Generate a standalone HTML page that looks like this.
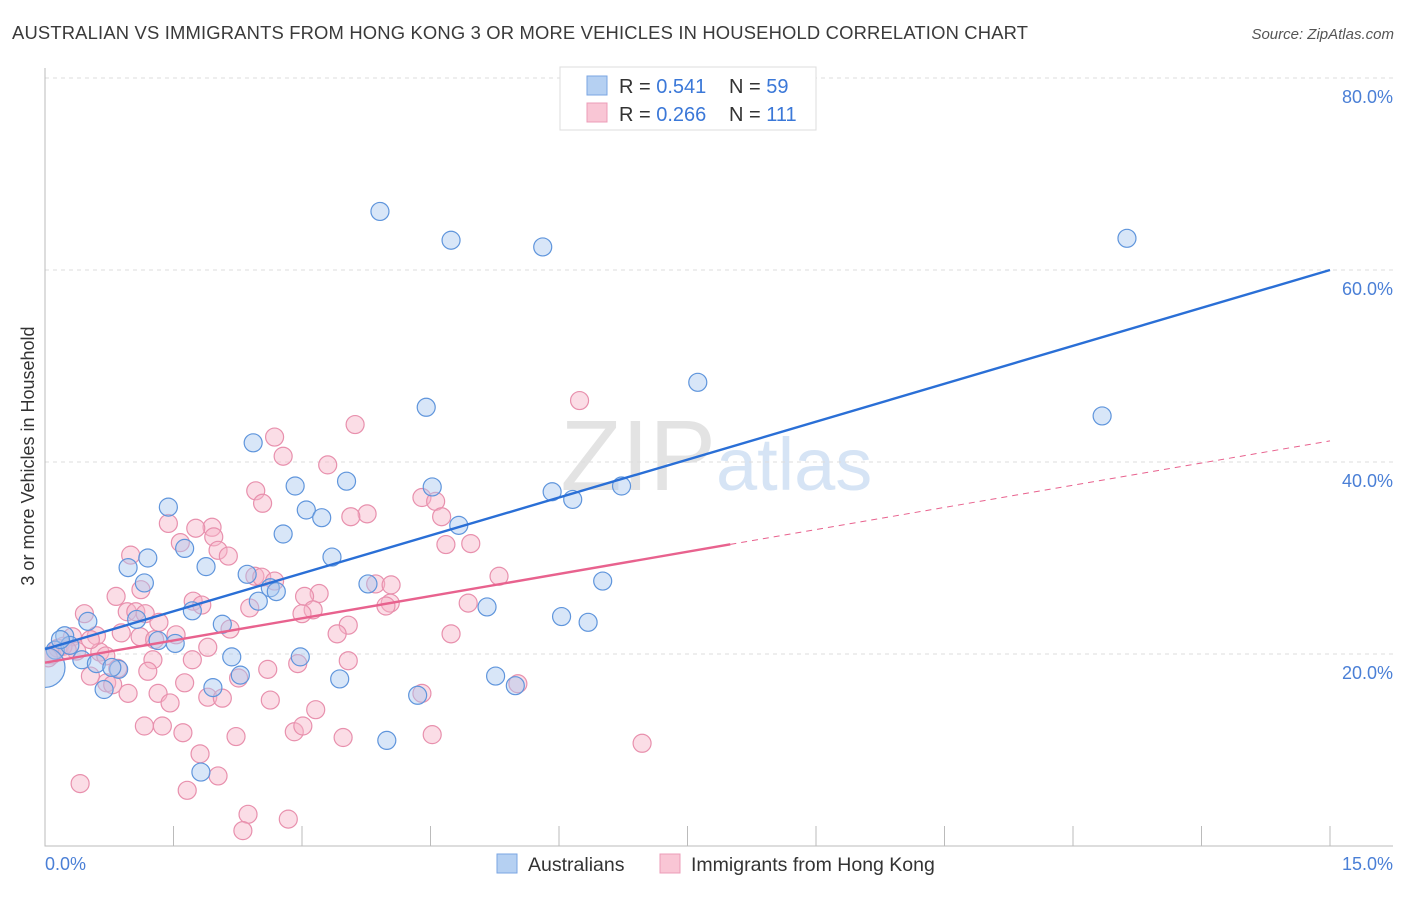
<!DOCTYPE html>
<html><head><meta charset="utf-8"><style>
body{margin:0;background:#fff;font-family:"Liberation Sans",sans-serif}
svg text{font-family:"Liberation Sans",sans-serif}
</style></head><body>
<svg id="chart" width="1406" height="892">
<defs><clipPath id="plotclip"><rect x="45" y="60" width="1360" height="786"/></clipPath></defs>
<text x="12" y="39" font-size="18.4" fill="#3a3a3a" textLength="1016">AUSTRALIAN VS IMMIGRANTS FROM HONG KONG 3 OR MORE VEHICLES IN HOUSEHOLD CORRELATION CHART</text>
<text x="1394" y="39" font-size="15" fill="#555" font-style="italic" text-anchor="end">Source: ZipAtlas.com</text>
<text x="716" y="490" font-size="100" fill="#e3e3e3" font-family="Liberation Serif" text-anchor="end">ZIP</text>
<text x="716" y="490" font-size="74" fill="#d6e4f5">atlas</text>
<g id="grid"></g>
<g id="axes"></g>
<g id="pts" clip-path="url(#plotclip)"></g>
<g id="lines"></g>
<text x="34" y="456" font-size="18" fill="#333" text-anchor="middle" transform="rotate(-90 34 456)">3 or more Vehicles in Household</text>
<text x="45" y="870" font-size="18" fill="#4a7fd6">0.0%</text>
<text x="1393" y="870" font-size="18" fill="#4a7fd6" text-anchor="end">15.0%</text>
<g>
<rect x="560" y="67" width="256" height="63" fill="#fff" stroke="#ddd"/>
<rect x="587" y="76" width="20" height="19" fill="#b5d0f2" stroke="#7aa6e3"/>
<rect x="587" y="103" width="20" height="19" fill="#f9c6d5" stroke="#ec9cb8"/>
<text x="619" y="93" font-size="20" fill="#333">R = <tspan fill="#3b78d8">0.541</tspan><tspan x="729">N = </tspan><tspan fill="#3b78d8">59</tspan></text>
<text x="619" y="121" font-size="20" fill="#333">R = <tspan fill="#3b78d8">0.266</tspan><tspan x="729">N = </tspan><tspan fill="#3b78d8">111</tspan></text>
</g>
<g>
<rect x="497" y="854" width="20" height="19" fill="#b5d0f2" stroke="#7aa6e3"/>
<text x="528" y="871" font-size="19.5" fill="#333">Australians</text>
<rect x="660" y="854" width="20" height="19" fill="#f9c6d5" stroke="#ec9cb8"/>
<text x="691" y="871" font-size="19.5" fill="#333">Immigrants from Hong Kong</text>
</g>
</svg>
<script>
const yTicks=[20,40,60,80];
const xTicks=[0,1.5,3,4.5,6,7.5,9,10.5,12,13.5,15];
const blueX=[3.91,4.74,5.81,12.63,7.62,12.34,4.45,2.43,1.44,2.92,3.52,4.52,3.05,3.23,4.83,5.92,6.16,6.73,1.63,1.20,0.97,2.78,3.35,1.88,2.36,1.16,3.77,2.63,2.70,2.49,6.51,5.16,1.72,1.07,0.50,0.23,6.03,6.34,2.07,1.32,1.52,2.18,2.98,0.43,0.60,0.86,0.78,2.28,3.44,5.26,5.49,1.96,0.69,4.35,3.99,1.82,0.12,0.29,0.18];
const blueY=[66.1,63.1,62.4,63.3,48.3,44.8,45.7,42.0,35.3,37.5,38.0,37.4,35.0,34.2,33.4,36.9,36.1,37.5,31.0,30.0,29.0,32.5,30.1,29.1,28.3,27.4,27.3,26.9,26.5,25.5,27.6,24.9,24.5,23.6,23.4,21.9,23.9,23.3,23.1,21.4,21.1,19.7,19.7,19.4,19.0,18.4,18.6,17.8,17.4,17.7,16.7,16.5,16.3,15.7,11.0,7.7,20.4,20.9,21.5];
const pinkX=[6.24,3.62,2.68,2.78,3.30,2.46,2.54,4.40,4.56,3.76,3.57,4.63,1.44,1.95,1.76,1.97,1.58,4.97,4.68,2.02,1.00,2.14,1.12,0.83,5.30,2.45,2.53,2.68,3.86,4.04,3.20,3.03,1.73,1.83,4.03,3.98,4.94,2.39,3.13,3.00,0.46,0.96,1.06,1.17,1.33,1.53,2.16,3.54,3.41,4.74,0.89,1.11,1.28,0.60,0.32,1.90,0.64,0.37,0.71,1.26,1.72,3.54,2.60,2.95,1.20,0.85,1.63,2.26,0.53,0.72,0.79,0.97,1.32,1.90,4.40,5.52,2.63,1.46,2.07,1.16,1.37,1.61,2.23,2.91,3.01,3.16,3.48,4.52,6.97,1.81,2.02,0.41,1.66,2.37,2.84,2.31,0.21,0.08,0.15,0.26,0.53,0.04];
const pinkY=[46.4,43.9,42.6,40.6,39.7,37.0,35.7,36.3,35.9,34.6,34.3,34.3,33.6,33.2,33.1,32.2,31.6,31.5,31.4,30.8,30.3,30.2,26.7,26.0,28.1,28.1,28.0,27.6,27.3,27.2,26.3,26.0,25.5,25.1,25.3,25.0,25.3,24.8,24.6,24.2,24.2,24.4,24.4,24.2,23.3,22.0,22.6,23.0,22.1,22.1,22.2,21.8,21.5,21.9,21.8,20.7,20.2,20.3,19.8,19.4,19.4,19.3,18.4,19.0,18.2,18.5,17.0,17.5,17.7,17.0,16.8,15.9,15.9,15.5,15.9,16.9,15.2,14.9,15.4,12.5,12.5,11.8,11.4,11.9,12.5,14.2,11.3,11.6,10.7,9.6,7.3,6.5,5.8,3.3,2.8,1.6,20.8,19.9,20.6,20.4,21.5,19.6];
const bigBlue=[0.0,18.6];
const blueLine=[20.5,60.0];
const pinkLine=[19.1,42.2];
const pinkSolidEnd=8.0;
const X0=45,X1=1330,Y0=846,YP=9.6;
const sx=v=>X0+(X1-X0)*v/15, sy=v=>Y0-v*YP;
const NS='http://www.w3.org/2000/svg';
function mk(t,a,p){const e=document.createElementNS(NS,t);for(const k in a)e.setAttribute(k,a[k]);p.appendChild(e);return e;}
const grid=document.getElementById('grid'),axes=document.getElementById('axes'),pts=document.getElementById('pts'),lines=document.getElementById('lines');
yTicks.forEach(v=>{
 const l=mk('line',{x1:X0,x2:1393,y1:sy(v),y2:sy(v),stroke:'#ddd','stroke-dasharray':'4,4'},grid);
 
 
 const t=mk('text',{x:1393,y:sy(v)+25,'font-size':18,fill:'#4a7fd6','text-anchor':'end'},grid);
 t.textContent=v.toFixed(1)+'%';
 
 
});
const ax=mk('path',{d:`M${X0} 68V${Y0}H1393`,stroke:'#bbb',fill:'none'},axes);


xTicks.forEach((v,i)=>{if(i==0)return;
 const l=mk('line',{x1:sx(v),x2:sx(v),y1:826,y2:Y0,stroke:'#bbb'},axes);
 
 
});
function dot(x,y,r,f,s,name){
 const c=mk('circle',{cx:sx(x),cy:sy(y),r:r,fill:f,'fill-opacity':0.45,stroke:s,'stroke-width':1.2},pts);
 
 
}
pinkX.forEach((x,i)=>dot(x,pinkY[i],9,'#f6b3c8','#e890ad','hong-kong-point'));
blueX.forEach((x,i)=>dot(x,blueY[i],9,'#a9c8f0','#5f95dc','australian-point'));
dot(bigBlue[0],bigBlue[1],20,'#a9c8f0','#5f95dc','australian-point-large');
const bl=mk('line',{x1:sx(0),y1:sy(blueLine[0]),x2:sx(15),y2:sy(blueLine[1]),stroke:'#2a6fd6','stroke-width':2.4},lines);


const pAt=x=>pinkLine[0]+(pinkLine[1]-pinkLine[0])*x/15;
const pl=mk('line',{x1:sx(0),y1:sy(pinkLine[0]),x2:sx(pinkSolidEnd),y2:sy(pAt(pinkSolidEnd)),stroke:'#e8628e','stroke-width':2.4},lines);


const pd=mk('line',{x1:sx(pinkSolidEnd),y1:sy(pAt(pinkSolidEnd)),x2:sx(15),y2:sy(pinkLine[1]),stroke:'#e8628e','stroke-width':1,'stroke-dasharray':'6,5'},lines);


</script>
</body></html>
